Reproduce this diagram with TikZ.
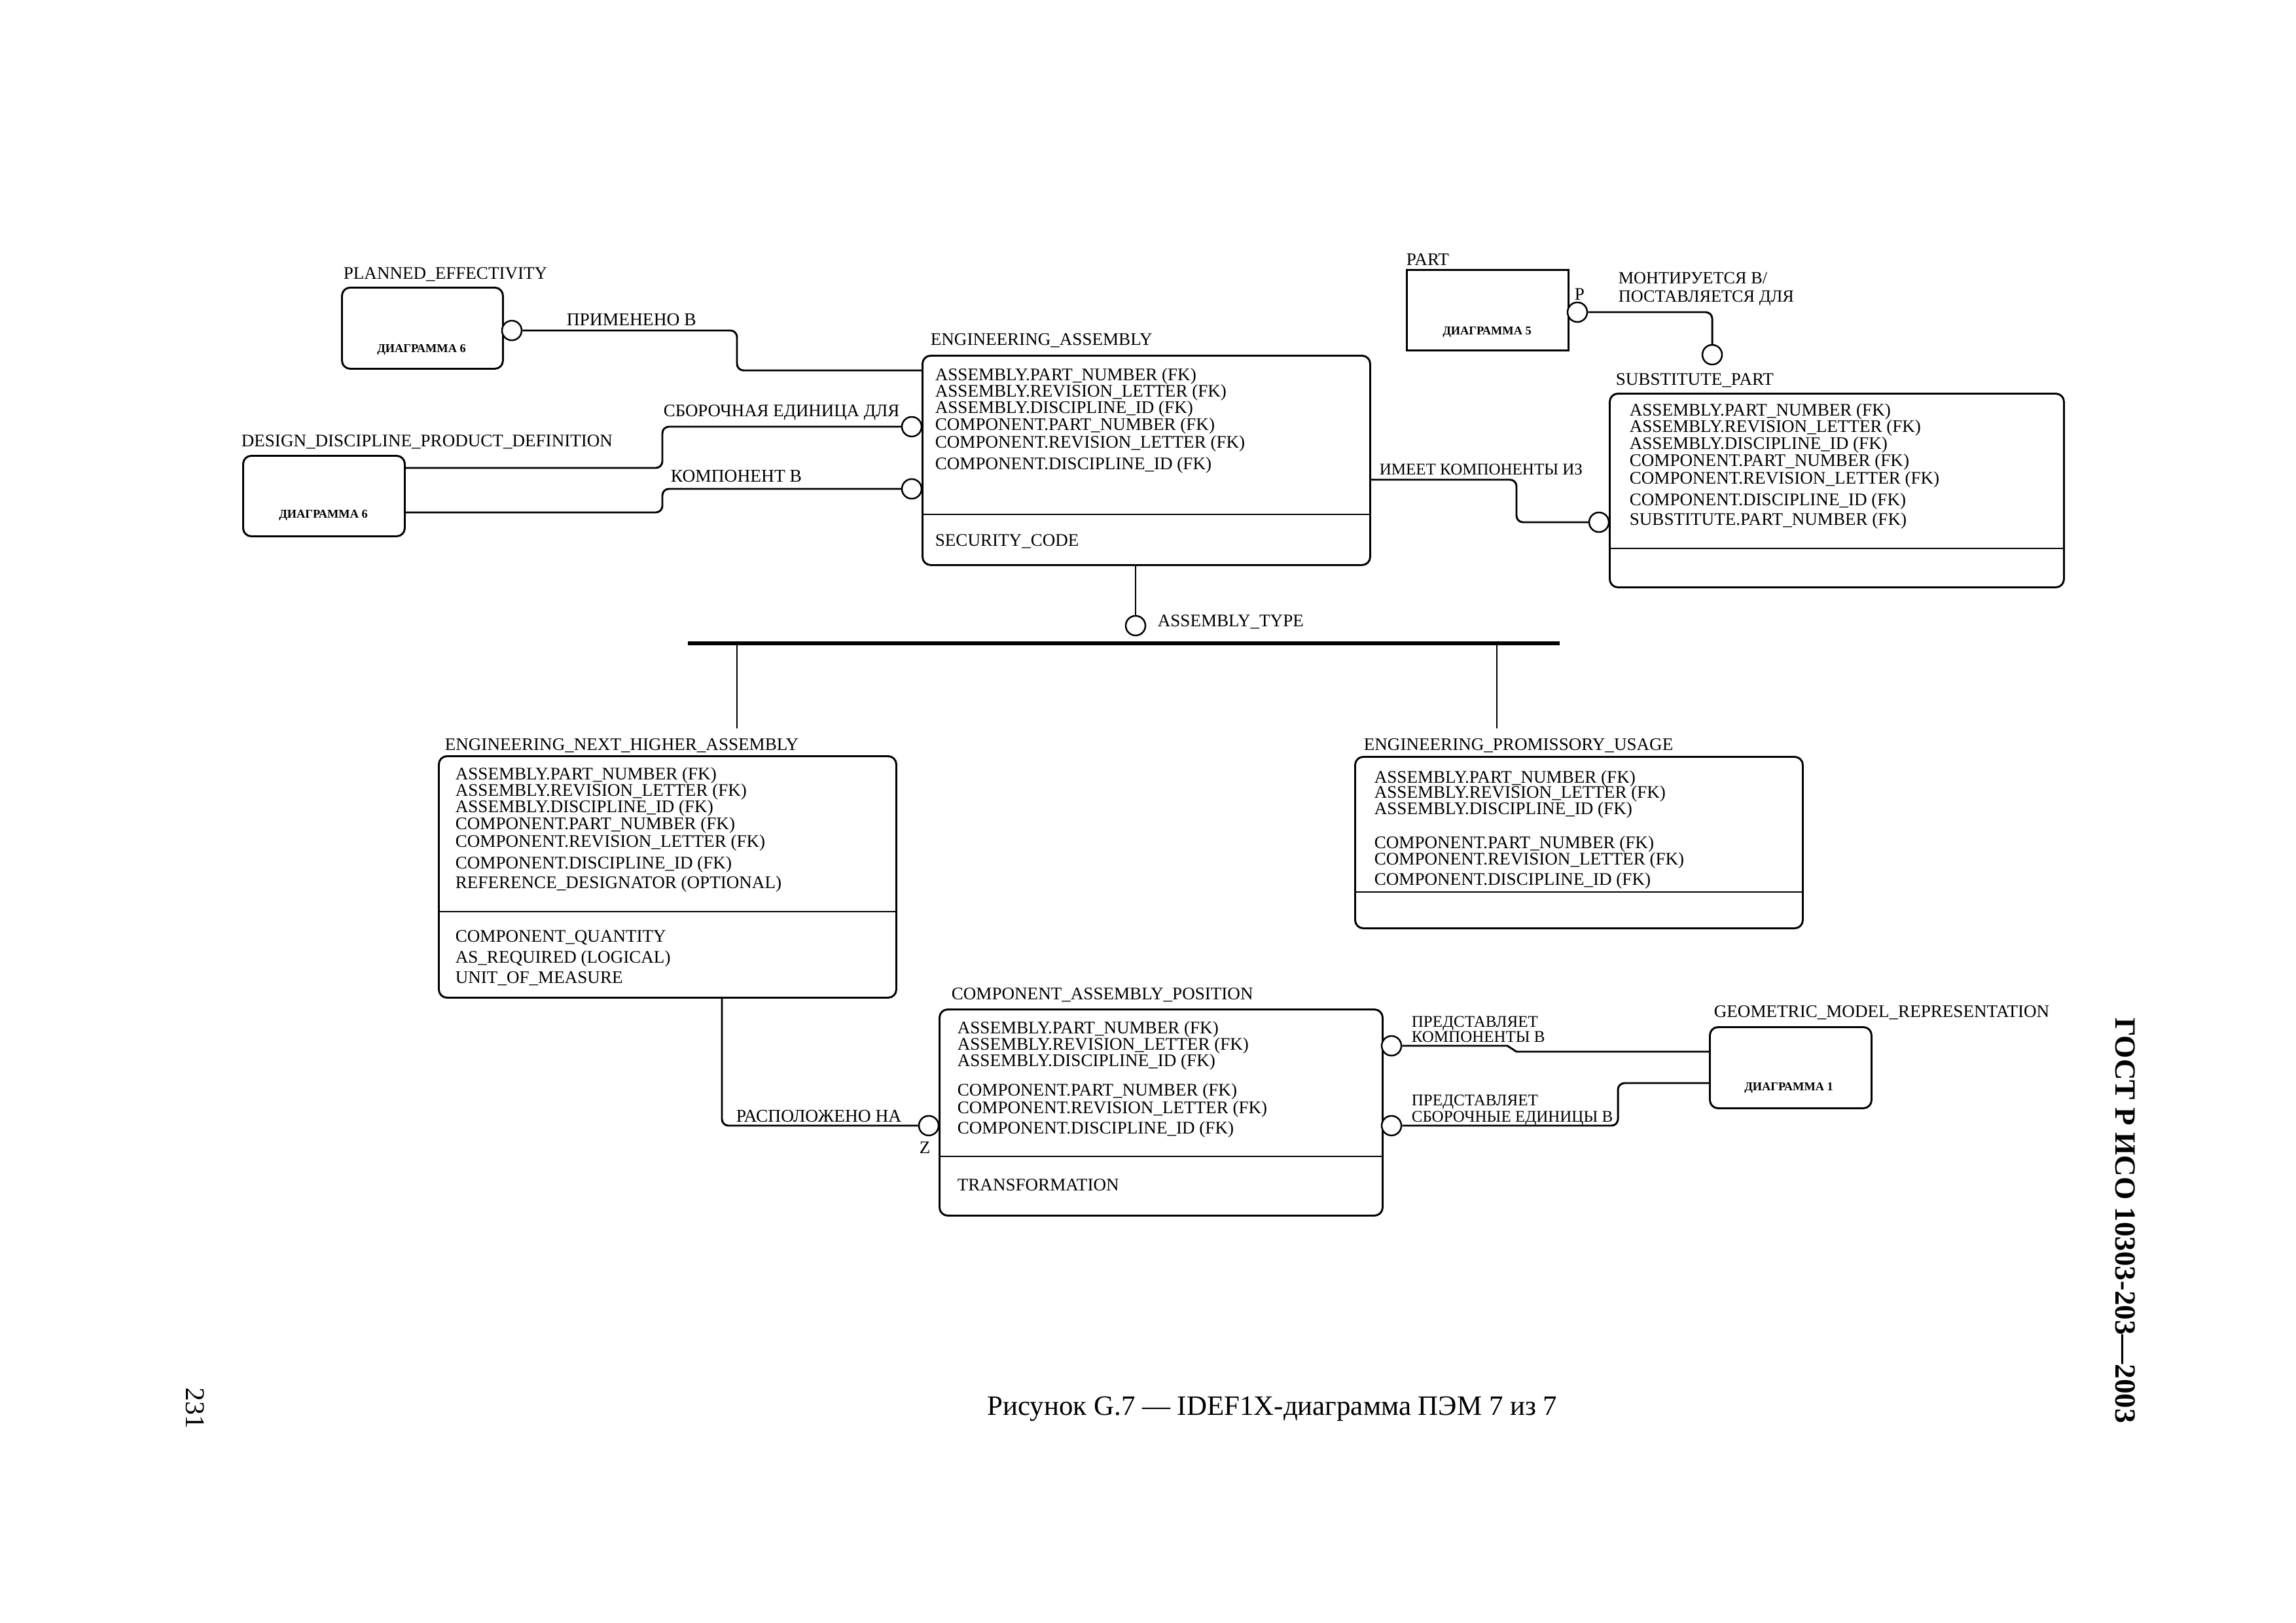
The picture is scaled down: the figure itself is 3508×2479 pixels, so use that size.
\documentclass[tikz,border=0pt]{standalone}
\usepackage{fontspec}
\setmainfont{Liberation Serif}
\newcommand\dfont{\fontsize{6.5}{7}\selectfont}
\newcommand\cfont{\fontsize{6.6}{7}\selectfont}
\newcommand\mfont{\fontsize{6.3}{7}\selectfont}
\newcommand\nfont{\fontsize{6.0}{7}\selectfont}
\newcommand\smallfnt{\fontsize{4.4}{5}\selectfont\bfseries}
\tikzset{
  ebox/.style={draw, line width=0.7pt, rounded corners=3pt, anchor=north west, inner sep=0pt},
  kbox/.style={draw, line width=0.7pt, anchor=north west, inner sep=0pt},
  txt/.style={anchor=base west, inner sep=0pt, font=\dfont},
  txtc/.style={anchor=base west, inner sep=0pt, font=\cfont},
  txtm/.style={anchor=base west, inner sep=0pt, font=\mfont},
  txtn/.style={anchor=base west, inner sep=0pt, font=\nfont},
  diag/.style={anchor=base, inner sep=0pt, font=\smallfnt},
  relc/.style={draw, circle, line width=0.6pt, fill=white, minimum size=7.2pt, inner sep=0pt},
  conn/.style={line width=0.7pt, rounded corners=2.4pt},
  divider/.style={line width=0.6pt},
}
\begin{document}
\begin{tikzpicture}[x=0.24pt,y=-0.24pt]
\useasboundingbox (0,0) rectangle (3508,2479);

% ---------- entity boxes ----------
\node[ebox, minimum width=59.04pt, minimum height=29.76pt] (pe) at (521,438) {};
\node[ebox, minimum width=59.28pt, minimum height=29.52pt] (ddpd) at (370,695) {};
\node[ebox, minimum width=164.16pt, minimum height=76.8pt] (ea) at (1408,542) {};
\node[kbox, minimum width=59.28pt, minimum height=29.52pt] (part) at (2148,411) {};
\node[ebox, minimum width=166.56pt, minimum height=71.04pt] (sp) at (2458,600) {};
\node[ebox, minimum width=167.76pt, minimum height=88.56pt] (enha) at (669,1154) {};
\node[ebox, minimum width=164.16pt, minimum height=62.88pt] (epu) at (2069,1155) {};
\node[ebox, minimum width=162.48pt, minimum height=75.6pt] (cap) at (1434,1541) {};
\node[ebox, minimum width=59.28pt, minimum height=29.76pt] (gmr) at (2611,1568) {};

% dividers
\draw[divider] (1408,786) -- (2092,786);
\draw[divider] (2458,838) -- (3152,838);
\draw[divider] (669,1393) -- (1368,1393);
\draw[divider] (2069,1363) -- (2753,1363);
\draw[divider] (1434,1767) -- (2111,1767);

% ---------- entity names ----------
\node[txt] (pe-n) at (524,426) {PLANNED\_EFFECTIVITY};
\node[txt] (ddpd-n) at (368,682) {DESIGN\_DISCIPLINE\_PRODUCT\_DEFINITION};
\node[txt] (ea-n) at (1421,527) {ENGINEERING\_ASSEMBLY};
\node[txt] (part-n) at (2148,405) {PART};
\node[txt] (sp-n) at (2468,588) {SUBSTITUTE\_PART};
\node[txt] (enha-n) at (679,1146) {ENGINEERING\_NEXT\_HIGHER\_ASSEMBLY};
\node[txt] (epu-n) at (2083,1146) {ENGINEERING\_PROMISSORY\_USAGE};
\node[txt] (cap-n) at (1453,1527) {COMPONENT\_ASSEMBLY\_POSITION};
\node[txt] (gmr-n) at (2618,1554) {GEOMETRIC\_MODEL\_REPRESENTATION};

% diagram references
\node[diag] (pe-d) at (644,538) {ДИАГРАММА 6};
\node[diag] (ddpd-d) at (494,791) {ДИАГРАММА 6};
\node[diag] (part-d) at (2272,511) {ДИАГРАММА 5};
\node[diag] (gmr-d) at (2733,1666) {ДИАГРАММА 1};

% ---------- attributes ----------
% ENGINEERING_ASSEMBLY
\node[txt] (ea1) at (1428,581) {ASSEMBLY.PART\_NUMBER (FK)};
\node[txt] (ea2) at (1428,606) {ASSEMBLY.REVISION\_LETTER (FK)};
\node[txt] (ea3) at (1428,631) {ASSEMBLY.DISCIPLINE\_ID (FK)};
\node[txt] (ea4) at (1428,657) {COMPONENT.PART\_NUMBER (FK)};
\node[txt] (ea5) at (1428,684) {COMPONENT.REVISION\_LETTER (FK)};
\node[txt] (ea6) at (1428,717) {COMPONENT.DISCIPLINE\_ID (FK)};
\node[txt] (ea7) at (1428,834) {SECURITY\_CODE};
% SUBSTITUTE_PART
\node[txt] (sp1) at (2489,635) {ASSEMBLY.PART\_NUMBER (FK)};
\node[txt] (sp2) at (2489,660) {ASSEMBLY.REVISION\_LETTER (FK)};
\node[txt] (sp3) at (2489,686) {ASSEMBLY.DISCIPLINE\_ID (FK)};
\node[txt] (sp4) at (2489,712) {COMPONENT.PART\_NUMBER (FK)};
\node[txt] (sp5) at (2489,739) {COMPONENT.REVISION\_LETTER (FK)};
\node[txt] (sp6) at (2489,772) {COMPONENT.DISCIPLINE\_ID (FK)};
\node[txt] (sp7) at (2489,802) {SUBSTITUTE.PART\_NUMBER (FK)};
% ENGINEERING_NEXT_HIGHER_ASSEMBLY
\node[txt] (enha1) at (695,1191) {ASSEMBLY.PART\_NUMBER (FK)};
\node[txt] (enha2) at (695,1216) {ASSEMBLY.REVISION\_LETTER (FK)};
\node[txt] (enha3) at (695,1241) {ASSEMBLY.DISCIPLINE\_ID (FK)};
\node[txt] (enha4) at (695,1267) {COMPONENT.PART\_NUMBER (FK)};
\node[txt] (enha5) at (695,1294) {COMPONENT.REVISION\_LETTER (FK)};
\node[txt] (enha6) at (695,1327) {COMPONENT.DISCIPLINE\_ID (FK)};
\node[txt] (enha7) at (695,1357) {REFERENCE\_DESIGNATOR (OPTIONAL)};
\node[txt] (enha8) at (695,1439) {COMPONENT\_QUANTITY};
\node[txt] (enha9) at (695,1471) {AS\_REQUIRED (LOGICAL)};
\node[txt] (enha10) at (695,1502) {UNIT\_OF\_MEASURE};
% ENGINEERING_PROMISSORY_USAGE
\node[txt] (epu1) at (2099,1196) {ASSEMBLY.PART\_NUMBER (FK)};
\node[txt] (epu2) at (2099,1219) {ASSEMBLY.REVISION\_LETTER (FK)};
\node[txt] (epu3) at (2099,1244) {ASSEMBLY.DISCIPLINE\_ID (FK)};
\node[txt] (epu4) at (2099,1296) {COMPONENT.PART\_NUMBER (FK)};
\node[txt] (epu5) at (2099,1321) {COMPONENT.REVISION\_LETTER (FK)};
\node[txt] (epu6) at (2099,1352) {COMPONENT.DISCIPLINE\_ID (FK)};
% COMPONENT_ASSEMBLY_POSITION
\node[txt] (cap1) at (1462,1579) {ASSEMBLY.PART\_NUMBER (FK)};
\node[txt] (cap2) at (1462,1604) {ASSEMBLY.REVISION\_LETTER (FK)};
\node[txt] (cap3) at (1462,1629) {ASSEMBLY.DISCIPLINE\_ID (FK)};
\node[txt] (cap4) at (1462,1674) {COMPONENT.PART\_NUMBER (FK)};
\node[txt] (cap5) at (1462,1701) {COMPONENT.REVISION\_LETTER (FK)};
\node[txt] (cap6) at (1462,1732) {COMPONENT.DISCIPLINE\_ID (FK)};
\node[txt] (cap7) at (1462,1819) {TRANSFORMATION};

% ---------- relationship circles ----------
\node[relc] (c-pe) at (782,505) {};
\node[relc] (c-ea1) at (1393,652) {};
\node[relc] (c-ea2) at (1393,747) {};
\node[relc] (c-part) at (2410,477) {};
\node[relc] (c-sp1) at (2616,542) {};
\node[relc] (c-sp2) at (2443,798) {};
\node[relc] (c-at) at (1735,956) {};
\node[relc] (c-cap1) at (1419,1720) {};
\node[relc] (c-cap2) at (2126,1598) {};
\node[relc] (c-cap3) at (2126,1720) {};

% ---------- connector end points ----------
\coordinate (ea-in1) at (1408,566);
\coordinate (dd-o1) at (617,715);
\coordinate (dd-o2) at (617,783);
\coordinate (ea-o1) at (2092,733);
\coordinate (ea-o2) at (1735,862);
\coordinate (bar-l) at (1051,983);
\coordinate (bar-r) at (2383,983);
\coordinate (bar-a) at (1126,983);
\coordinate (bar-b) at (2287,983);
\coordinate (enha-in) at (1126,1113);
\coordinate (epu-in) at (2287,1113);
\coordinate (enha-o) at (1103,1523);
\coordinate (gmr-i1) at (2611,1607);
\coordinate (gmr-i2) at (2611,1655);

% ---------- connectors ----------
\draw[conn] (c-pe.east) -- (1126,505) -- (1126,566) -- (ea-in1);
\draw[conn] (dd-o1) -- (1012,715) -- (1012,652) -- (c-ea1.west);
\draw[conn] (dd-o2) -- (1012,783) -- (1012,747) -- (c-ea2.west);
\draw[conn] (ea-o1) -- (2317,733) -- (2317,798) -- (c-sp2.west);
\draw[conn] (c-part.east) -- (2616,477) -- (c-sp1.north);
\draw[conn] (ea-o2) -- (c-at.north);
\draw[line width=1.4pt] (bar-l) -- (bar-r);
\draw[conn] (bar-a) -- (enha-in);
\draw[conn] (bar-b) -- (epu-in);
\draw[conn] (enha-o) -- (1103,1720) -- (c-cap1.west);
\draw[line width=0.7pt] (c-cap2.east) -- (2303,1598) -- (2317,1607) -- (gmr-i1);
\draw[conn] (c-cap3.east) -- (2472,1720) -- (2472,1655) -- (gmr-i2);

% ---------- relationship labels ----------
\node[txtc] (r1) at (865,497) {ПРИМЕНЕНО В};
\node[txtm] (r2) at (1013,636) {\fontsize{6.45}{7}\selectfont СБОРОЧНАЯ ЕДИНИЦА ДЛЯ};
\node[txtc] (r3) at (1024,736) {КОМПОНЕНТ В};
\node[txtm] (r4a) at (2472,433) {МОНТИРУЕТСЯ В/};
\node[txtm] (r4b) at (2472,461) {ПОСТАВЛЯЕТСЯ ДЛЯ};
\node[txt] (r4p) at (2405,458) {P};
\node[txtn] (r5) at (2107,725) {ИМЕЕТ КОМПОНЕНТЫ ИЗ};
\node[txt] (r6) at (1768,957) {ASSEMBLY\_TYPE};
\node[txtc] (r7) at (1124,1714) {РАСПОЛОЖЕНО НА};
\node[txt] (r7z) at (1404,1762) {Z};
\node[txtn] (r8a) at (2156,1569) {ПРЕДСТАВЛЯЕТ};
\node[txtn] (r8b) at (2156,1592) {КОМПОНЕНТЫ В};
\node[txtn] (r9a) at (2156,1689) {ПРЕДСТАВЛЯЕТ};
\node[txtn] (r9b) at (2156,1714) {СБОРОЧНЫЕ ЕДИНИЦЫ В};

% ---------- page texts ----------
\node[anchor=base, inner sep=0pt, font=\fontsize{10.3}{12}\selectfont] (caption) at (1944,2162) {Рисунок G.7 — IDEF1X-диаграмма ПЭМ 7 из 7};
\node[rotate=-90, inner sep=0pt, font=\fontsize{10}{12}\selectfont] (pagenum) at (298,2152) {231};
\node[rotate=-90, inner sep=0pt, font=\fontsize{10.8}{12}\selectfont\bfseries] (gost) at (3247,1865) {ГОСТ Р ИСО 10303-203—2003};
\end{tikzpicture}
\end{document}
